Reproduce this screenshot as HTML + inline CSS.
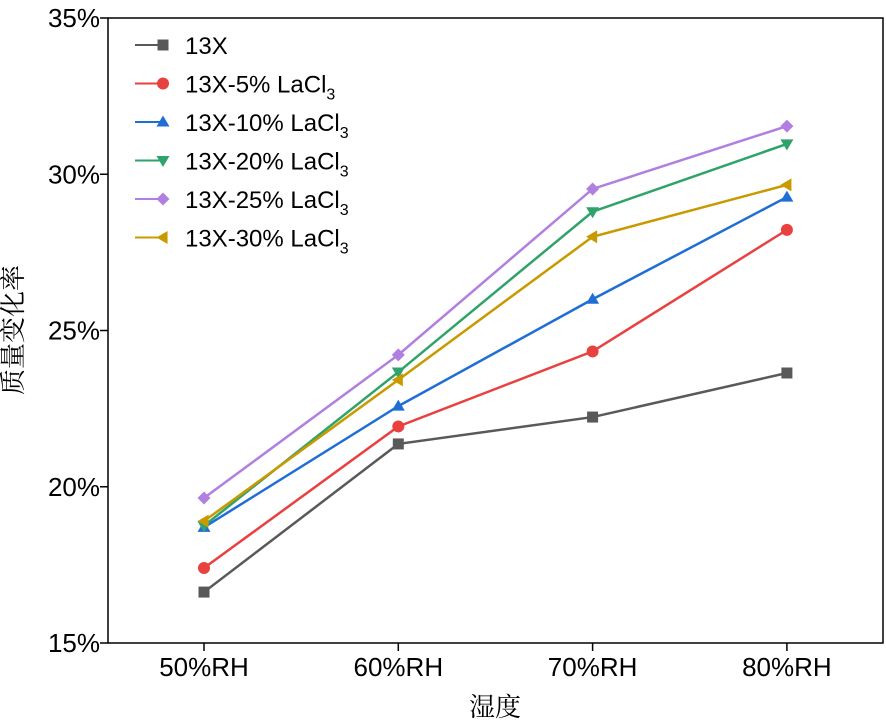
<!DOCTYPE html>
<html><head><meta charset="utf-8">
<style>
html,body{margin:0;padding:0;background:#fff;}
svg{display:block;font-family:"Liberation Sans","Noto Sans CJK SC",sans-serif;}
</style></head>
<body>
<svg id="chart" width="886" height="725" viewBox="0 0 886 725">
<rect x="108" y="18" width="775" height="625" fill="none" stroke="#000" stroke-width="1.5"/>
<g id="axes"></g>
<g id="series"></g>
<g id="legend"></g>
<text x="22" y="330" font-size="26" text-anchor="middle" transform="rotate(-90 22 330)" font-family="'Noto Serif CJK SC','Liberation Serif',serif">质量变化率</text>
<text x="495" y="716" font-size="26" text-anchor="middle" font-family="'Noto Serif CJK SC','Liberation Serif',serif">湿度</text>
</svg>
<script>
const categories = ["50%RH","60%RH","70%RH","80%RH"];
const yTicks = [15,20,25,30,35];
const seriesNames = ["13X","13X-5% LaCl","13X-10% LaCl","13X-20% LaCl","13X-25% LaCl","13X-30% LaCl"];
const s13X = [16.63,21.37,22.23,23.64];
const s5 = [17.4,21.93,24.33,28.22];
const s10 = [18.7,22.58,26.0,29.27];
const s20 = [18.75,23.67,28.8,30.97];
const s25 = [19.64,24.22,29.53,31.54];
const s30 = [18.9,23.42,28.0,29.66];
const allSeries=[s13X,s5,s10,s20,s25,s30];
const colors=["#595959","#e8413f","#1f6ed6","#2fa36b","#b07fe0","#c89a00"];
const markers=["square","circle","up","down","diamond","left"];
const NS="http://www.w3.org/2000/svg";
const X0=108,X1=883,Y0=643,Y1=18;
function xs(i){return 204+i*194.3;}
function ys(v){return Y0-(v-15)/20*(Y0-Y1);}
function mk(tag,attrs,parent){const e=document.createElementNS(NS,tag);for(const k in attrs)e.setAttribute(k,attrs[k]);parent.appendChild(e);return e;}
const axes=document.getElementById('axes');
yTicks.forEach(t=>{
 const l=mk('line',{x1:X0-8,x2:X0,y1:ys(t),y2:ys(t),stroke:'#000','stroke-width':1.5},axes);
 
 
 const tx=mk('text',{x:X0-8,y:ys(t)+9,'font-size':26,'text-anchor':'end'},axes);
 tx.textContent=t+'%';
 
 
});
categories.forEach((c,i)=>{
 const l=mk('line',{x1:xs(i),x2:xs(i),y1:Y0,y2:Y0+8,stroke:'#000','stroke-width':1.5},axes);
 
 
 const tx=mk('text',{x:xs(i),y:Y0+33,'font-size':26,'text-anchor':'middle'},axes);
 tx.textContent=c;
 
 
});
function marker(type,x,y,color,parent){
 const r=6.5;let e;
 if(type==='square')e=mk('rect',{x:x-5.5,y:y-5.5,width:11,height:11,fill:color},parent);
 else if(type==='circle')e=mk('circle',{cx:x,cy:y,r:6,fill:color},parent);
 else{let p;
  if(type==='up')p=[[x,y-r],[x+r,y+r*0.7],[x-r,y+r*0.7]];
  if(type==='down')p=[[x,y+r],[x+r,y-r*0.7],[x-r,y-r*0.7]];
  if(type==='diamond')p=[[x,y-r],[x+r,y],[x,y+r],[x-r,y]];
  if(type==='left')p=[[x-r,y],[x+r*0.7,y-r],[x+r*0.7,y+r]];
  e=mk('polygon',{points:p.map(q=>q.join(',')).join(' '),fill:color},parent);}
 return e;
}
const sg=document.getElementById('series');
allSeries.forEach((s,k)=>{
 const g=mk('g',{},sg);
 
 
 const pl=mk('polyline',{points:s.map((v,i)=>xs(i)+','+ys(v)).join(' '),fill:'none',stroke:colors[k],'stroke-width':2.5},g);
 
 
 s.forEach((v,i)=>{const m=marker(markers[k],xs(i),ys(v),colors[k],g);
  
  });
});
const lg=document.getElementById('legend');
seriesNames.forEach((n,k)=>{
 const y=45+k*38.5;
 const g=mk('g',{},lg);
 
 
 mk('line',{x1:135,x2:164,y1:y,y2:y,stroke:colors[k],'stroke-width':2},g);
 marker(markers[k],163,y,colors[k],g);
 const t=mk('text',{x:185,y:y+9,'font-size':24},g);
 t.textContent=n;
 if(k>0){const sub=mk('tspan',{'font-size':16,dy:7},t);sub.textContent='3';}
});
</script>
</body></html>
